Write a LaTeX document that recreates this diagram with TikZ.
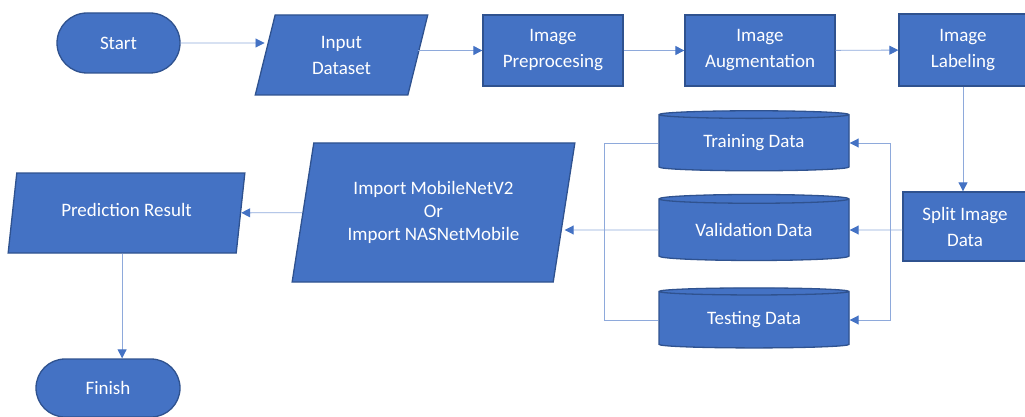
\documentclass[tikz,border=0pt]{standalone}
\usepackage{fontspec}
\setmainfont{Carlito}
\usetikzlibrary{shapes.geometric,shapes.misc,arrows.meta}
\definecolor{boxblue}{HTML}{4472C4}
\definecolor{boxedge}{HTML}{2F528F}
\definecolor{boxtop}{HTML}{8FAADC}
\definecolor{wireblue}{HTML}{8EA9DB}
\tikzset{
  flow/.style={draw=boxedge, fill=boxblue, line width=1.3pt, text=white, align=center,
    font=\fontsize{19}{26}\selectfont, inner sep=0pt},
  terminal/.style={flow, rounded rectangle},
  process/.style={flow, rectangle},
  io/.style={flow, trapezium, trapezium stretches=true},
  store/.style={flow, cylinder, shape border rotate=90, aspect=0.075, cylinder uses custom fill,
    cylinder body fill=boxblue, cylinder end fill=boxtop, minimum width=190pt},
  bus/.style={draw=wireblue, line width=0.9pt},
  link/.style={bus, -{Triangle[length=9pt,width=9pt,color=boxblue]}},
}
\begin{document}
\begin{tikzpicture}[x=1pt,y=-1pt]
			\useasboundingbox (0,0) rectangle (1025,417);

			\node[terminal, minimum width=123pt, minimum height=60pt] (start) at (118.5,43) {Start};
			\node[io, trapezium left angle=77, trapezium right angle=103, minimum width=173pt, minimum height=80pt] (input) at (341.5,55) {Input\\Dataset};
			\node[process, minimum width=140pt, minimum height=71pt] (prep) at (553,50.5) {Image\\Preprocesing};
			\node[process, minimum width=150pt, minimum height=71pt] (aug) at (760,50.5) {Image\\Augmentation};
			\node[process, minimum width=128pt, minimum height=72pt] (label) at (963,50) {Image\\Labeling};
			\node[process, minimum width=124pt, minimum height=69pt] (split) at (965,226.5) {Split Image\\Data};

			\node[store, minimum height=60pt] (train) at (754,143) {Training Data};
			\node[store, minimum height=66pt] (valid) at (754,230) {Validation Data};
			\node[store, minimum height=60pt] (test) at (754,320) {Testing Data};

			\node[io, trapezium left angle=76, trapezium right angle=104, minimum width=283pt, minimum height=139pt,
				font=\fontsize{19}{23}\selectfont] (import) at (433.5,212.5) {Import MobileNetV2\\Or\\Import NASNetMobile};
			\node[io, trapezium left angle=75, trapezium right angle=105, minimum width=237pt, minimum height=80pt] (pred) at (126.5,213) {\raisebox{6pt}{Prediction Result}};
			\node[terminal, minimum width=144pt, minimum height=58pt] (finish) at (108,388) {Finish};

			\coordinate (rjoin) at (890,230);
			\coordinate (ljoin) at (604,230);

			\draw[link] (start) -- (start -| input.west);
			\draw[link] (input.east |- prep) -- (prep);
			\draw[link] (prep) -- (aug);
			\draw[link] (aug) -- (label);
			\draw[link] (label.south) -- (label.south |- split.north);
			\draw[link] (split.west |- valid) -- (valid);
			\draw[link] (rjoin) |- (train);
			\draw[link] (rjoin) |- (test);
			\draw[bus] (train) -| (ljoin);
			\draw[bus] (test) -| (ljoin);
			\draw[link] (valid) -- (valid -| import.east);
			\draw[link] (import) -- (pred);
			\draw[link] (pred.bottom side) -- (pred.bottom side |- finish.north);
		\end{tikzpicture}
\end{document}
